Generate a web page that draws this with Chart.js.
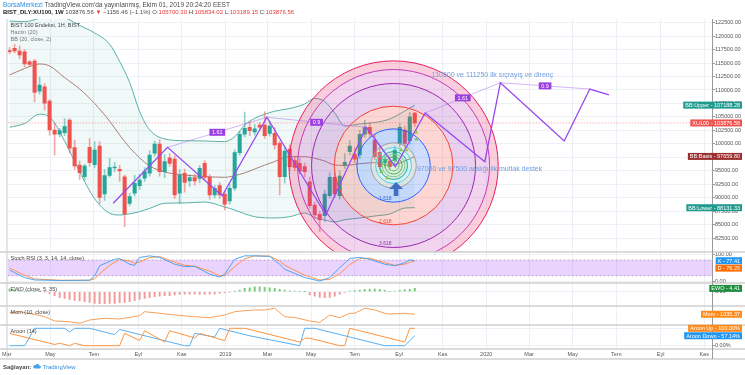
<!DOCTYPE html>
<html lang="tr">
<head>
<meta charset="utf-8">
<title>BIST 100 (XU100) haftalık</title>
<script src="https://cdn.jsdelivr.net/npm/chart.js@4.4.1/dist/chart.umd.min.js"></script>
<style>
  html, body { margin: 0; padding: 0; background: #fff; }
  #wrap { position: relative; width: 745px; height: 375px; overflow: hidden;
          font-family: 'Liberation Sans', Arial, sans-serif; }
  #c { position: absolute; left: 0; top: 0; }
  .txt { position: absolute; left: 3px; white-space: nowrap; color: #4a4a4a; }
  #h1 { top: 1px; font-size: 6.5px; }
  #h2 { top: 8.5px; font-size: 6px; }
  #foot { top: 363px; font-size: 6px; }
  .red { color: #e53935; }
  .blue { color: #2f8de4; }
</style>
</head>
<body>
<div id="wrap">
  <canvas id="c" width="745" height="375"></canvas>
  <div class="txt" id="h1"><span class="blue">BorsaMerkezi</span> TradingView.com'da yayınlanmış, Ekim 01, 2019 20:24:20 EEST</div>
  <div class="txt" id="h2"></div>
  <div class="txt" id="foot"><b>Sağlayan:</b> <svg width="8" height="6" viewBox="0 0 8 6"><path d="M1.5 5.5h5a1.4 1.4 0 0 0 0-2.8 2 2 0 0 0-3.8-.6A1.7 1.7 0 0 0 1.5 5.5z" fill="#4aa3e8"/></svg> <span class="blue">TradingView</span></div>
</div>
<script>
// weekly candles, first bar = week of 2018-03-05
const firstWeek = '2018-03-05'
const opens  = [117300,117750,117250,117100,115250,115380,109800,110600,107950,102570,
                101770,102070,104430,99290,96060,93910,99360,96120,99600,90680,
                94150,95500,95260,93890,88950,90810,92220,93600,94530,98240,
                99970,94820,97420,97180,90810,94530,93090,93710,93590,96380,
                93780,90490,92220,90680,89380,91740,98350,101770,103070,102200,
                103500,103500,101950,101950,100090,93890,99030,96870,96380,95750,
                92960,88630,86900,86640,90360,93780,90360,95940,98540,98110,
                97920,101770,103070,100710,98420,96500,96810,96860,100090,102570,
                100580,105700.30]
const highs  = [117900,118500,118200,117500,115500,115700,112400,111200,108200,103800,
                102900,104700,104700,100700,96800,96200,101000,100400,100400,95200,
                97300,96500,96000,94200,90800,94200,94300,95600,98700,100500,
                100800,98000,98200,97800,95200,95300,94300,94400,96000,96900,
                94300,92300,92800,91200,92500,98900,102300,105900,104200,103600,
                104000,105970,104200,103000,100500,99500,99800,97500,97300,96400,
                93800,89200,87500,91400,94600,94700,95000,98200,100600,99300,
                102500,104400,103900,101800,99400,97800,97600,99600,103700,103300,
                105800,105834.02]
const lows   = [116700,116900,115800,114300,114400,107800,109200,106300,101600,97900,
                101300,101500,98300,95200,93400,93200,95800,95500,88900,89500,
                93800,94800,93000,84600,88500,90300,91500,93000,94000,97700,
                94000,93700,95800,89800,88950,91000,92100,92300,92800,93300,
                89700,89900,89800,87700,88800,91300,97900,101300,101500,101600,
                102500,101000,101400,99000,90490,92700,95000,95000,94400,93800,
                88000,86000,83670,85500,89900,90000,89700,95400,97900,96500,
                97300,101200,101300,97000,95200,95700,95200,96000,99500,99400,
                100000,103189.15]
const closes = [117100,117250,116500,114830,114770,109570,110900,107530,102570,101770,
                102440,103180,99170,95880,94630,95880,96490,98850,90060,94080,
                95570,95650,94950,86960,90180,92660,93280,94820,97920,99970,
                94820,96680,96380,90490,94210,92850,93710,93090,95450,93780,
                90490,91740,90490,88770,91740,98350,101770,102880,102440,102800,
                103070,101510,103310,99780,93890,98660,95750,95630,94950,94820,
                88500,86780,85850,90680,93780,90680,94030,96560,99600,97130,
                101770,103070,101950,97600,95750,97180,95750,98850,103070,100090,
                105033.02,103876.56]

// x axis (month ticks)
const tickDates  = ['2018-03-01','2018-05-01','2018-07-01','2018-09-01','2018-11-01','2019-01-01',
                    '2019-03-01','2019-05-01','2019-07-01','2019-09-01','2019-11-01','2020-01-01',
                    '2020-03-01','2020-05-01','2020-07-01','2020-09-01','2020-11-01']
const tickLabels = ['Mar','May','Tem','Eyl','Kas','2019','Mar','May','Tem','Eyl','Kas','2020',
                    'Mar','May','Tem','Eyl','Kas']
const priceTicks = [82500,85000,87500,90000,92500,95000,97500,100000,102500,105000,
                    107500,110000,112500,115000,117500,120000,122500]

// Bollinger (20, close, 2)
const bbIdx   = [0,3,6,8,11,14,17,20,22,24,26,28,31,35,39,43,45,47,49,53,56,59,61,63,65,67,70,73,76,79,81]
const bbUpper = [122800,122700,123400,124500,123500,122000,120600,118500,115300,111400,
                 106000,102600,100900,100580,100530,100400,101320,103500,104740,106060,
                 106560,107400,108420,107860,105730,103310,103680,103960,104610,106100,107188.28]
const bbBasis = [112790,113990,114830,114460,112300,110200,107500,104200,101640,99300,
                 97400,95880,94770,94200,93930,93780,94100,94600,95320,96720,
                 97610,97610,97300,96800,96060,96000,96300,96500,96000,96800,97659.80]
const bbLower = [103070,103770,105500,105000,100500,94800,89800,87100,86780,87000,
                 87400,88000,88950,89010,89190,88260,87700,87000,86460,86220,
                 86460,87150,86300,85850,85480,85900,86220,86590,86960,88070,88131.33]

// Stoch RSI (3, 3, 14, 14)
const stochIdx = [0,1,3,5,10,16,17,18,20,21,22,24,25,26,28,30,33,35,37,40,42,43,45,47,49,52,54,55,59,62,64,66,68,70,72,75,77,79,80,81]
const stochK   = [42,32,13,4,2,3,19,58,75,83,86,64,60,90,96,90,64,55,56,26,15,26,83,96,96,94,64,45,13,0,13,51,86,90,83,64,58,70,81,77.41]
const stochD   = [50,40,22,8,3,3,8,28,60,72,82,76,68,72,90,93,72,60,56,38,20,20,55,85,96,95,76,60,22,4,6,28,62,86,87,70,60,64,72,76.26]
const stochBands = [80, 20]

// EWO (close, 5, 35), one bar per week
const ewo = [4.0,2.0,1.5,1.0,0.6,0.3,0.1,-0.3,-2.5,-5.3,
             -8.0,-8.9,-10.2,-11.5,-12.4,-13.3,-14.2,-15.5,-16.0,-16.0,
             -15.5,-15.5,-14.6,-14.2,-13.3,-12.0,-10.2,-8.9,-7.5,-6.6,
             -5.8,-5.3,-5.3,-4.4,-3.5,-3.1,-3.1,-3.1,-3.5,-3.5,
             -3.1,-3.1,-2.2,-1.3,-0.6,1.0,2.2,4.4,5.3,6.6,
             6.6,5.8,5.3,4.4,3.1,2.2,1.3,0.9,0.4,0.1,
             -4.4,-5.8,-7.5,-8.0,-7.5,-5.8,-3.1,-0.9,0.9,1.5,
             2.2,3.1,3.5,3.5,3.1,1.8,0.4,0.9,1.8,2.7,
             3.1,4.41]

// Mom (10, close)
const momIdx = [0,2,5,7,9,12,14,16,19,22,26,27,30,33,37,40,43,45,47,49,51,53,55,57,60,62,64,66,68,69,71,73,75,76,79,81]
const mom    = [4700,7000,900,-4700,-14700,-16400,-20100,-12400,-8400,-10000,-2300,7000,3300,-700,-4700,-7000,-700,7000,9300,11000,
                11000,15000,-4700,-6500,-14700,-17800,-700,-7000,3300,3300,15000,11000,3300,1600,3300,1035.37]

// Aroon (14)
const aroonUpIdx   = [0,9,10,12,13,15,22,23,26,27,31,32,37,38,43,44,47,49,58,59,60,66,67,68,70,79,80,81]
const aroonUp      = [71,7,14,0,14,0,0,71,30,86,21,86,45,71,29,100,100,86,21,43,43,0,0,100,86,21,100,100]
const aroonDownIdx = [0,3,5,11,12,13,16,21,22,35,36,37,41,42,48,58,59,61,75,79,81]
const aroonDown    = [0,0,100,100,79,100,100,64,93,0,0,71,50,100,57,0,100,100,0,0,57.14]

// drawings: zigzag (week index, price)
const zzIdx   = [20.71,31.58,42.50,51.44,63.22,71.30,77.12,83.08,95.0,98.11,110.88,115.99,119.82]
const zzPrice = [88950,99350,90360,104930,86780,103070,95750,105720,96680,111350,100520,110180,109070]
const ratioText = ['1.61','0.9','1.61','0.9']
const ratioLegs = [[1,3],[3,5],[7,9],[9,11]]

// fib circles
const fibCenterIdx = 76.76
const fibCenterPrice = 95972
const fibUnitWeeks = 4.53
const fibLevels = [0.236,0.382,0.5,0.618,0.786,1,1.618,2.618,3.618,4.236,4.618]
const fibColors = ['#66bb6a','#4caf50','#81c784','#26a69a','#4dd0e1','#9e9e9e','#2962ff','#f44336','#9c27b0','#c43bb5','#e91e63']

const arrowIdx = 77.26
const arrowPrice = 92907
const triIdx   = [74.3,75.5,78.25,79.3,81.3,81.3]
const triPrice = [94820,93650,98850,98850,102140,100840]

const noteText  = ['110500 ve 111250 ilk sıçrayış ve direnç','97000 ve 97500 aralığı ilk mutlak destek']
const noteIdx   = [84.4,81.43]
const notePrice = [112784,95229]

// ---------------------------------------------------------------

const xMin = -0.397, xMax = 140.42
const weekMs = 7 * 24 * 3600 * 1000
const weekOf = d => (Date.parse(d) - Date.parse(firstWeek)) / weekMs
const last = a => a[a.length - 1]
const fmt = v => v.toFixed(2)

// header line from the data
{
  const c = last(closes), prev = closes[closes.length - 2]
  const ch = c - prev, pct = ch / prev * 100
  const sgn = v => (v < 0 ? '−' : '+') + Math.abs(v).toFixed(2)
  const n = opens.length - 1
  document.getElementById('h2').innerHTML =
    '<b style="color:#222">BIST_DLY:XU100, 1W</b> ' + fmt(c) + ' <span class="red">▼</span> ' +
    sgn(ch) + ' (' + (pct < 0 ? '−' : '+') + Math.abs(pct).toFixed(1) + '%) ' +
    'O:<span class="red">' + fmt(opens[n]) + '</span> H:<span class="red">' + fmt(highs[n]) +
    '</span> L:<span class="red">' + fmt(lows[n]) + '</span> C:<span class="red">' + fmt(closes[n]) + '</span>'
}

const isUp = i => closes[i] >= opens[i]
const pts = (xs, ys) => xs.map((x, k) => ({ x: x, y: ys[k] }))

function rgba(hex, a) {
  const n = parseInt(hex.slice(1), 16)
  return 'rgba(' + (n >> 16) + ',' + ((n >> 8) & 255) + ',' + (n & 255) + ',' + a + ')'
}

function drawFib(chart) {
  const { ctx, chartArea } = chart
  const xs = chart.scales.x, ys = chart.scales.y
  const cx = xs.getPixelForValue(fibCenterIdx), cy = ys.getPixelForValue(fibCenterPrice)
  const unit = xs.getPixelForValue(fibCenterIdx + fibUnitWeeks) - cx
  ctx.save()
  ctx.beginPath()
  ctx.rect(chartArea.left, ys.top, chartArea.right - chartArea.left, ys.bottom - ys.top)
  ctx.clip()
  let prev = 0
  fibLevels.forEach((lv, k) => {
    const r = lv * unit
    ctx.fillStyle = rgba(fibColors[k], lv < 1 ? 0.15 : 0.22)
    ctx.beginPath()
    ctx.arc(cx, cy, r, 0, Math.PI * 2)
    if (prev > 0) ctx.arc(cx, cy, prev, 0, Math.PI * 2, true)
    ctx.fill()
    prev = r
  })
  ctx.lineWidth = 1
  fibLevels.forEach((lv, k) => {
    ctx.strokeStyle = fibColors[k]
    ctx.beginPath()
    ctx.arc(cx, cy, lv * unit, 0, Math.PI * 2)
    ctx.stroke()
  })
  ctx.font = "5px 'Liberation Sans', Arial"
  ctx.textAlign = 'right'
  ctx.textBaseline = 'bottom'
  fibLevels.forEach((lv, k) => {
    if (lv < 1.6) return
    ctx.fillStyle = fibColors[k]
    ctx.fillText(lv.toFixed(3), cx - 2, cy + lv * unit - 1)
  })
  ctx.restore()
}

const tvPlugin = {
  id: 'tvDrawings',
  beforeDatasetsDraw(chart) { chart.$fibDone = false },
  beforeDatasetDraw(chart, args) {
    if (!chart.$fibDone && chart.data.datasets[args.index].fibUnder) {
      drawFib(chart)
      chart.$fibDone = true
    }
  },
  afterDatasetsDraw(chart) {
    const { ctx } = chart
    const xs = chart.scales.x, ys = chart.scales.y
    ctx.save()
    // ratio tags on the zigzag legs
    ctx.font = "5.5px 'Liberation Sans', Arial"
    ctx.textAlign = 'center'
    ctx.textBaseline = 'middle'
    ratioLegs.forEach((leg, k) => {
      const px = xs.getPixelForValue((zzIdx[leg[0]] + zzIdx[leg[1]]) / 2)
      const py = ys.getPixelForValue((zzPrice[leg[0]] + zzPrice[leg[1]]) / 2)
      const w = ctx.measureText(ratioText[k]).width + 5
      ctx.fillStyle = '#9c3fe0'
      ctx.fillRect(px - w / 2, py - 3.5, w, 7)
      ctx.fillStyle = '#fff'
      ctx.fillText(ratioText[k], px, py + 0.3)
    })
    // blue arrow
    const ax = xs.getPixelForValue(arrowIdx), ay = ys.getPixelForValue(arrowPrice)
    ctx.fillStyle = '#3f6fc2'
    ctx.beginPath()
    ctx.moveTo(ax, ay)
    ctx.lineTo(ax + 7, ay + 7)
    ctx.lineTo(ax + 2.3, ay + 7)
    ctx.lineTo(ax + 2.3, ay + 14)
    ctx.lineTo(ax - 2.3, ay + 14)
    ctx.lineTo(ax - 2.3, ay + 7)
    ctx.lineTo(ax - 7, ay + 7)
    ctx.closePath()
    ctx.fill()
    // notes
    ctx.font = "7px 'Liberation Sans', Arial"
    ctx.textAlign = 'left'
    ctx.fillStyle = '#6d9ee0'
    noteText.forEach((t, k) => ctx.fillText(t, xs.getPixelForValue(noteIdx[k]), ys.getPixelForValue(notePrice[k])))
    ctx.restore()
  },
  afterDraw(chart) {
    const { ctx, chartArea } = chart
    const W = chart.width
    ctx.save()
    // pane separators and frame
    ctx.strokeStyle = '#cfcfcf'
    ctx.lineWidth = 1.5
    const seps = ['yStoch', 'yEwo', 'yMom', 'yAroon'].map(id => chart.scales[id].top)
    seps.push(chartArea.bottom, chart.scales.x.bottom)
    seps.forEach(y => { ctx.beginPath(); ctx.moveTo(0, y); ctx.lineTo(W, y); ctx.stroke() })
    ctx.lineWidth = 1
    ctx.strokeStyle = '#d6d6d6'
    ctx.beginPath(); ctx.moveTo(chartArea.left - 0.5, chartArea.top); ctx.lineTo(chartArea.left - 0.5, chart.scales.x.bottom); ctx.stroke()
    ctx.strokeStyle = '#9a9a9a'
    ctx.beginPath(); ctx.moveTo(chartArea.right + 0.5, chartArea.top); ctx.lineTo(chartArea.right + 0.5, chart.scales.x.bottom); ctx.stroke()

    // pane titles
    const titles = [
      ['y', ['BIST 100 Endeksi, 1H, BIST', 'Hacim (20)', 'BB (20, close, 2)']],
      ['yStoch', ['Stoch RSI (3, 3, 14, 14, close)']],
      ['yEwo', ['EWO (close, 5, 35)']],
      ['yMom', ['Mom (10, close)']],
      ['yAroon', ['Aroon (14)']]
    ]
    ctx.font = "5.5px 'Liberation Sans', Arial"
    ctx.textAlign = 'left'
    ctx.textBaseline = 'middle'
    titles.forEach(([id, lines]) => {
      lines.forEach((t, k) => {
        ctx.fillStyle = k === 0 ? '#444' : '#777'
        ctx.fillText(t, chartArea.left + 3, chart.scales[id].top + 6 + k * 7.2)
      })
    })

    // last value tags on the price axis
    const tags = [
      ['y', last(bbUpper), 'BB:Upper', '#1f9a8e', ''],
      ['y', last(closes), 'XU100', '#ef5350', ''],
      ['y', last(bbBasis), 'BB:Basis', '#9b2f2f', ''],
      ['y', last(bbLower), 'BB:Lower', '#1f9a8e', ''],
      ['yStoch', last(stochK), 'K', '#2196f3', ''],
      ['yStoch', last(stochD), 'D', '#ff6d00', ''],
      ['yEwo', last(ewo), 'EWO', '#1e8e3e', ''],
      ['yMom', last(mom), 'Mom', '#ff8a1a', ''],
      ['yAroon', last(aroonUp), 'Aroon Up', '#ff8a1a', '%'],
      ['yAroon', last(aroonDown), 'Aroon Down', '#2196f3', '%']
    ].map(t => ({ y: chart.scales[t[0]].getPixelForValue(t[1]), text: t[2] + ' - ' + fmt(t[1]) + t[4], bg: t[3] }))
    tags.sort((a, b) => a.y - b.y)
    for (let k = 1; k < tags.length; k++) {
      if (tags[k].y - tags[k - 1].y < 7.4) tags[k].y = tags[k - 1].y + 7.4
    }
    ctx.textAlign = 'right'
    tags.forEach(t => {
      const w = ctx.measureText(t.text).width + 4
      ctx.fillStyle = t.bg
      ctx.fillRect(742 - w, t.y - 3.5, w, 7)
      ctx.fillStyle = '#fff'
      ctx.fillText(t.text, 740, t.y + 0.3)
    })
    ctx.restore()
  }
}

Chart.defaults.font.family = "'Liberation Sans', Arial, sans-serif"
Chart.defaults.font.size = 5.5
Chart.defaults.color = '#4d4d4d'

const idx = closes.map((_, i) => i)
const lineBase = { type: 'line', pointRadius: 0, borderWidth: 1, fill: false, tension: 0 }

const datasets = [
  // Bollinger bands
  { ...lineBase, label: 'BB upper', yAxisID: 'y', order: 10, data: pts(bbIdx, bbUpper),
    borderColor: '#5aafa8', cubicInterpolationMode: 'monotone',
    fill: '+2', backgroundColor: 'rgba(38,166,154,0.07)' },
  { ...lineBase, label: 'BB basis', yAxisID: 'y', order: 10, data: pts(bbIdx, bbBasis),
    borderColor: '#b57a72', cubicInterpolationMode: 'monotone' },
  { ...lineBase, label: 'BB lower', yAxisID: 'y', order: 10, data: pts(bbIdx, bbLower),
    borderColor: '#5aafa8', cubicInterpolationMode: 'monotone' },
  // candles
  { type: 'bar', label: 'wick', yAxisID: 'y', order: 9, grouped: false, barThickness: 1, minBarLength: 1,
    data: idx.map(i => ({ x: i, y: [lows[i], highs[i]] })),
    backgroundColor: idx.map(i => isUp(i) ? 'rgba(38,166,154,0.5)' : 'rgba(239,83,80,0.5)') },
  { type: 'bar', label: 'body', yAxisID: 'y', order: 8, grouped: false, barThickness: 3.4, minBarLength: 1,
    data: idx.map(i => ({ x: i, y: [opens[i], closes[i]] })),
    backgroundColor: idx.map(i => isUp(i) ? '#26a69a' : '#ef5350') },
  // last price line
  { ...lineBase, label: 'last', yAxisID: 'y', order: 7, data: pts([xMin, xMax], [last(closes), last(closes)]),
    borderColor: 'rgba(239,83,80,0.55)', borderWidth: 0.8, borderDash: [1.5, 1.5] },
  // zigzag drawing
  { ...lineBase, label: 'ratio a', yAxisID: 'y', order: 3, fibUnder: true,
    data: [1, 3, 5].map(k => ({ x: zzIdx[k], y: zzPrice[k] })), borderColor: 'rgba(175,115,240,0.6)', borderWidth: 0.9 },
  { ...lineBase, label: 'ratio b', yAxisID: 'y', order: 3, fibUnder: true,
    data: [7, 9, 11].map(k => ({ x: zzIdx[k], y: zzPrice[k] })), borderColor: 'rgba(175,115,240,0.6)', borderWidth: 0.9 },
  { ...lineBase, label: 'zigzag', yAxisID: 'y', order: 2, data: pts(zzIdx, zzPrice),
    borderColor: '#9848f0', borderWidth: 1.3 },
  { type: 'scatter', label: 'signals', yAxisID: 'y', order: 1, data: pts(triIdx, triPrice),
    pointStyle: 'triangle', pointRadius: 2.4, backgroundColor: '#8bc34a', borderWidth: 0 },
  // Stoch RSI
  { ...lineBase, label: 'band hi', yAxisID: 'yStoch', order: 12, data: pts([xMin, xMax], [stochBands[0], stochBands[0]]),
    borderColor: '#a98bc9', borderWidth: 0.7, borderDash: [2, 2], fill: '+1', backgroundColor: 'rgba(186,110,250,0.3)' },
  { ...lineBase, label: 'band lo', yAxisID: 'yStoch', order: 12, data: pts([xMin, xMax], [stochBands[1], stochBands[1]]),
    borderColor: '#a98bc9', borderWidth: 0.7, borderDash: [2, 2] },
  { ...lineBase, label: 'D', yAxisID: 'yStoch', order: 6, data: pts(stochIdx, stochD), borderColor: '#ff8a3d', borderWidth: 0.9 },
  { ...lineBase, label: 'K', yAxisID: 'yStoch', order: 5, data: pts(stochIdx, stochK), borderColor: '#3aa0f2', borderWidth: 0.9 },
  // EWO
  { type: 'bar', label: 'EWO', yAxisID: 'yEwo', order: 5, grouped: false, barThickness: 1.3,
    data: idx.map(i => ({ x: i, y: ewo[i] })),
    backgroundColor: ewo.map(v => v >= 0 ? '#7cc97c' : '#f29a9a') },
  // Mom
  { ...lineBase, label: 'Mom', yAxisID: 'yMom', order: 5, data: pts(momIdx, mom), borderColor: '#f7a05a' },
  // Aroon
  { ...lineBase, label: 'Aroon Up', yAxisID: 'yAroon', order: 5, data: pts(aroonUpIdx, aroonUp), borderColor: '#fb9440' },
  { ...lineBase, label: 'Aroon Down', yAxisID: 'yAroon', order: 6, data: pts(aroonDownIdx, aroonDown), borderColor: '#5ab0f0' }
]

const fixedTicks = list => s => { s.ticks = list.map(v => ({ value: v })) }
const paneY = (weight, min, max, ticks, fmtFn) => ({
  type: 'linear', position: 'right', stack: 'panes', stackWeight: weight, min: min, max: max, bounds: 'data',
  afterFit: s => { s.width = 33 },
  afterBuildTicks: fixedTicks(ticks),
  grid: { color: '#eef1f5', tickLength: 3, tickColor: '#9a9a9a' },
  border: { display: false },
  ticks: { padding: 0, autoSkip: false, color: '#555', font: { size: 5.5 }, callback: fmtFn }
})

new Chart(document.getElementById('c'), {
  type: 'line',
  data: { datasets: datasets },
  options: {
    responsive: false,
    animation: false,
    events: [],
    layout: { padding: { left: 3, right: 0, top: 19, bottom: 16 } },
    plugins: { legend: { display: false }, tooltip: { enabled: false } },
    scales: {
      x: {
        type: 'linear', min: xMin, max: xMax, bounds: 'data', offset: false,
        afterFit: s => { s.height = 10 },
        afterBuildTicks: s => { s.ticks = tickDates.map(d => ({ value: weekOf(d) })) },
        grid: { color: '#e9f0f6', drawTicks: false, offset: false },
        border: { display: false },
        ticks: { padding: 2, autoSkip: false, maxRotation: 0, color: '#555', font: { size: 5.5 },
                 callback: (v, i) => tickLabels[i] }
      },
      y: paneY(233, 79904, 123187, priceTicks, v => fmt(v)),
      yStoch: paneY(31, -7.6, 110.7, [0, 100], v => fmt(v)),
      yEwo: paneY(23, -19, 11.6, [0], v => fmt(v)),
      yMom: paneY(19, -24060, 20300, [], v => fmt(v)),
      yAroon: paneY(24, -19, 119, [0, 100], v => fmt(v) + '%')
    }
  },
  plugins: [tvPlugin]
})
</script>
</body>
</html>
